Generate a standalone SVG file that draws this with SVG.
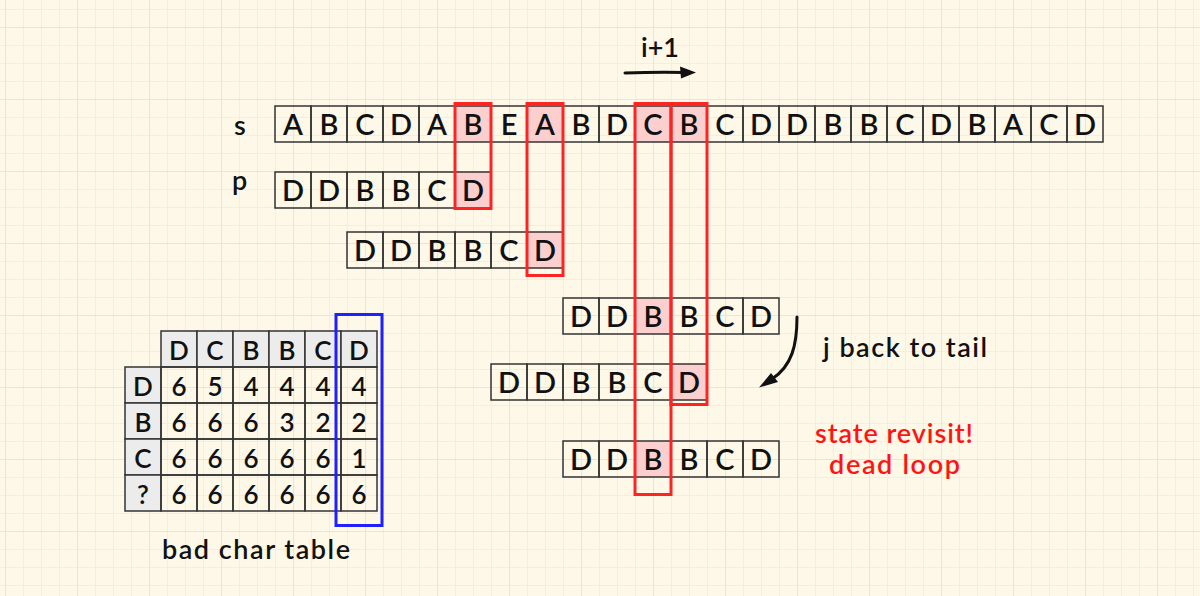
<svg xmlns="http://www.w3.org/2000/svg" width="1200" height="596" viewBox="0 0 1200 596">
<style>
.c{fill:none;stroke:#333;stroke-width:1.5}
.g{fill:#ececec;stroke:#333;stroke-width:1.5}
.h{fill:#fccfcf;stroke:#333;stroke-width:1.5}
.t{font-family:Lato,"Liberation Sans",sans-serif;font-size:29px;font-weight:600;fill:#111;text-anchor:middle}
.n{font-family:Lato,"Liberation Sans",sans-serif;font-size:26px;font-weight:600;fill:#111;text-anchor:middle}
.l{font-family:Lato,"Liberation Sans",sans-serif;font-size:27px;font-weight:600;fill:#111}
.r{fill:none;stroke:#ff2424;stroke-width:3}
.red{font-family:Lato,"Liberation Sans",sans-serif;font-size:27px;font-weight:600;fill:#ff1414}
</style>
<defs>
<pattern id="minor" x="5" y="9" width="18" height="18" patternUnits="userSpaceOnUse">
<path d="M0.5,0V18M0,0.5H18" stroke="#f4eedb" stroke-width="1" fill="none"/>
</pattern>
<pattern id="major" x="5" y="27" width="72" height="72" patternUnits="userSpaceOnUse">
<path d="M0.5,0V72M0,0.5H72" stroke="#e8e5dc" stroke-width="1.2" fill="none"/>
</pattern>
</defs>
<rect width="1200" height="596" fill="#fdf8e8"/>
<rect width="1200" height="596" fill="url(#minor)"/>
<rect width="1200" height="596" fill="url(#major)"/>

<g id="label-s"><text class="l" x="234" y="135" font-size="30">s</text></g>
<g id="label-p"><text class="l" x="232" y="190" font-size="30">p</text></g>

<g id="row-s">
<rect class="c" x="275" y="106" width="36" height="36"/><rect class="c" x="311" y="106" width="36" height="36"/><rect class="c" x="347" y="106" width="36" height="36"/><rect class="c" x="383" y="106" width="36" height="36"/><rect class="c" x="419" y="106" width="36" height="36"/><rect class="h" x="455" y="106" width="36" height="36"/><rect class="c" x="491" y="106" width="36" height="36"/><rect class="h" x="527" y="106" width="36" height="36"/><rect class="c" x="563" y="106" width="36" height="36"/><rect class="c" x="599" y="106" width="36" height="36"/><rect class="h" x="635" y="106" width="36" height="36"/><rect class="h" x="671" y="106" width="36" height="36"/><rect class="c" x="707" y="106" width="36" height="36"/><rect class="c" x="743" y="106" width="36" height="36"/><rect class="c" x="779" y="106" width="36" height="36"/><rect class="c" x="815" y="106" width="36" height="36"/><rect class="c" x="851" y="106" width="36" height="36"/><rect class="c" x="887" y="106" width="36" height="36"/><rect class="c" x="923" y="106" width="36" height="36"/><rect class="c" x="959" y="106" width="36" height="36"/><rect class="c" x="995" y="106" width="36" height="36"/><rect class="c" x="1031" y="106" width="36" height="36"/><rect class="c" x="1067" y="106" width="36" height="36"/>
<text class="t" y="135"><tspan x="293">A</tspan><tspan x="329">B</tspan><tspan x="365">C</tspan><tspan x="401">D</tspan><tspan x="437">A</tspan><tspan x="473">B</tspan><tspan x="509">E</tspan><tspan x="545">A</tspan><tspan x="581">B</tspan><tspan x="617">D</tspan><tspan x="653">C</tspan><tspan x="689">B</tspan><tspan x="725">C</tspan><tspan x="761">D</tspan><tspan x="797">D</tspan><tspan x="833">B</tspan><tspan x="869">B</tspan><tspan x="905">C</tspan><tspan x="941">D</tspan><tspan x="977">B</tspan><tspan x="1013">A</tspan><tspan x="1049">C</tspan><tspan x="1085">D</tspan></text>
</g>

<g id="row-p1">
<rect class="c" x="275" y="172" width="36" height="36"/><rect class="c" x="311" y="172" width="36" height="36"/><rect class="c" x="347" y="172" width="36" height="36"/><rect class="c" x="383" y="172" width="36" height="36"/><rect class="c" x="419" y="172" width="36" height="36"/><rect class="h" x="455" y="172" width="36" height="36"/>
<text class="t" y="201"><tspan x="293">D</tspan><tspan x="329">D</tspan><tspan x="365">B</tspan><tspan x="401">B</tspan><tspan x="437">C</tspan><tspan x="473">D</tspan></text>
</g>

<g id="row-p2">
<rect class="c" x="347" y="232" width="36" height="36"/><rect class="c" x="383" y="232" width="36" height="36"/><rect class="c" x="419" y="232" width="36" height="36"/><rect class="c" x="455" y="232" width="36" height="36"/><rect class="c" x="491" y="232" width="36" height="36"/><rect class="h" x="527" y="232" width="36" height="36"/>
<text class="t" y="261"><tspan x="365">D</tspan><tspan x="401">D</tspan><tspan x="437">B</tspan><tspan x="473">B</tspan><tspan x="509">C</tspan><tspan x="545">D</tspan></text>
</g>

<g id="row-p3">
<rect class="c" x="563" y="298" width="36" height="36"/><rect class="c" x="599" y="298" width="36" height="36"/><rect class="h" x="635" y="298" width="36" height="36"/><rect class="c" x="671" y="298" width="36" height="36"/><rect class="c" x="707" y="298" width="36" height="36"/><rect class="c" x="743" y="298" width="36" height="36"/>
<text class="t" y="327"><tspan x="581">D</tspan><tspan x="617">D</tspan><tspan x="653">B</tspan><tspan x="689">B</tspan><tspan x="725">C</tspan><tspan x="761">D</tspan></text>
</g>

<g id="row-p4">
<rect class="c" x="491" y="364" width="36" height="36"/><rect class="c" x="527" y="364" width="36" height="36"/><rect class="c" x="563" y="364" width="36" height="36"/><rect class="c" x="599" y="364" width="36" height="36"/><rect class="c" x="635" y="364" width="36" height="36"/><rect class="h" x="671" y="364" width="36" height="36"/>
<text class="t" y="393"><tspan x="509">D</tspan><tspan x="545">D</tspan><tspan x="581">B</tspan><tspan x="617">B</tspan><tspan x="653">C</tspan><tspan x="689">D</tspan></text>
</g>

<g id="row-p5">
<rect class="c" x="563" y="441" width="36" height="36"/><rect class="c" x="599" y="441" width="36" height="36"/><rect class="h" x="635" y="441" width="36" height="36"/><rect class="c" x="671" y="441" width="36" height="36"/><rect class="c" x="707" y="441" width="36" height="36"/><rect class="c" x="743" y="441" width="36" height="36"/>
<text class="t" y="470"><tspan x="581">D</tspan><tspan x="617">D</tspan><tspan x="653">B</tspan><tspan x="689">B</tspan><tspan x="725">C</tspan><tspan x="761">D</tspan></text>
</g>

<g id="red-boxes">
<rect class="r" x="455" y="103.5" width="36" height="105"/>
<rect class="r" x="527" y="103.5" width="36" height="172"/>
<rect class="r" x="635" y="103.5" width="36" height="391"/>
<rect class="r" x="671" y="103.5" width="36" height="301"/>
</g>

<g id="bad-char-table">
<rect class="g" x="161" y="331" width="36" height="36"/><rect class="g" x="197" y="331" width="36" height="36"/><rect class="g" x="233" y="331" width="36" height="36"/><rect class="g" x="269" y="331" width="36" height="36"/><rect class="g" x="305" y="331" width="36" height="36"/><rect class="g" x="341" y="331" width="36" height="36"/>
<rect class="g" x="125" y="367" width="36" height="36"/><rect class="g" x="125" y="403" width="36" height="36"/><rect class="g" x="125" y="439" width="36" height="36"/><rect class="g" x="125" y="475" width="36" height="36"/>
<g class="c">
<rect x="161" y="367" width="36" height="36"/><rect x="197" y="367" width="36" height="36"/><rect x="233" y="367" width="36" height="36"/><rect x="269" y="367" width="36" height="36"/><rect x="305" y="367" width="36" height="36"/><rect x="341" y="367" width="36" height="36"/>
<rect x="161" y="403" width="36" height="36"/><rect x="197" y="403" width="36" height="36"/><rect x="233" y="403" width="36" height="36"/><rect x="269" y="403" width="36" height="36"/><rect x="305" y="403" width="36" height="36"/><rect x="341" y="403" width="36" height="36"/>
<rect x="161" y="439" width="36" height="36"/><rect x="197" y="439" width="36" height="36"/><rect x="233" y="439" width="36" height="36"/><rect x="269" y="439" width="36" height="36"/><rect x="305" y="439" width="36" height="36"/><rect x="341" y="439" width="36" height="36"/>
<rect x="161" y="475" width="36" height="36"/><rect x="197" y="475" width="36" height="36"/><rect x="233" y="475" width="36" height="36"/><rect x="269" y="475" width="36" height="36"/><rect x="305" y="475" width="36" height="36"/><rect x="341" y="475" width="36" height="36"/>
</g>
<text class="n" y="360"><tspan x="179">D</tspan><tspan x="215">C</tspan><tspan x="251">B</tspan><tspan x="287">B</tspan><tspan x="323">C</tspan><tspan x="359">D</tspan></text>
<text class="n" y="396"><tspan x="143">D</tspan><tspan x="179">6</tspan><tspan x="215">5</tspan><tspan x="251">4</tspan><tspan x="287">4</tspan><tspan x="323">4</tspan><tspan x="359">4</tspan></text>
<text class="n" y="432"><tspan x="143">B</tspan><tspan x="179">6</tspan><tspan x="215">6</tspan><tspan x="251">6</tspan><tspan x="287">3</tspan><tspan x="323">2</tspan><tspan x="359">2</tspan></text>
<text class="n" y="468"><tspan x="143">C</tspan><tspan x="179">6</tspan><tspan x="215">6</tspan><tspan x="251">6</tspan><tspan x="287">6</tspan><tspan x="323">6</tspan><tspan x="359">1</tspan></text>
<text class="n" y="504"><tspan x="143">?</tspan><tspan x="179">6</tspan><tspan x="215">6</tspan><tspan x="251">6</tspan><tspan x="287">6</tspan><tspan x="323">6</tspan><tspan x="359">6</tspan></text>
<rect x="336" y="314.5" width="46" height="211" fill="none" stroke="#1f1fff" stroke-width="3"/>
<text class="l" x="162" y="559" textLength="188" lengthAdjust="spacing">bad char table</text>
</g>

<g id="connectors">
<path d="M625,73 Q655,72 684,72.5" fill="none" stroke="#111" stroke-width="3" stroke-linecap="round"/>
<polygon points="696,72.5 680,66.5 681,78.5" fill="#111"/>
<path d="M797,317 C797,345 792,366 772,379" fill="none" stroke="#111" stroke-width="3" stroke-linecap="round"/>
<polygon points="759,387.5 771,373 778,382" fill="#111"/>
</g>

<g id="annotations">
<text class="l" x="641" y="57" textLength="38" lengthAdjust="spacing">i+1</text>
<text class="l" x="823" y="357" textLength="164" lengthAdjust="spacing">j back to tail</text>
<text class="red" x="815" y="443" textLength="158" lengthAdjust="spacing">state revisit!</text>
<text class="red" x="829" y="474" textLength="131" lengthAdjust="spacing">dead loop</text>
</g>
</svg>
